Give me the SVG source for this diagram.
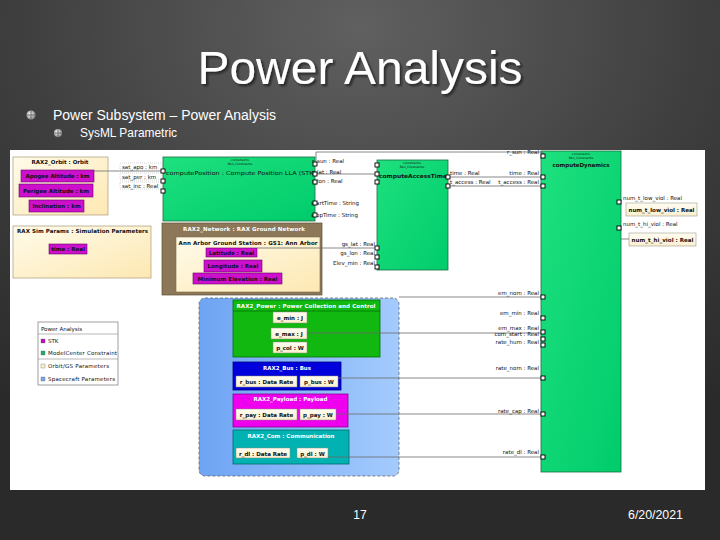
<svg xmlns="http://www.w3.org/2000/svg" width="720" height="540" viewBox="0 0 720 540">
<defs>
<radialGradient id="bg" cx="50%" cy="5%" r="85%">
<stop offset="0" stop-color="#606060"/><stop offset="0.6" stop-color="#3c3c3c"/><stop offset="1" stop-color="#2a2a2a"/>
</radialGradient>
<linearGradient id="beige" x1="0" y1="0" x2="1" y2="1">
<stop offset="0" stop-color="#fffbea"/><stop offset="1" stop-color="#fde8b2"/>
</linearGradient>
<linearGradient id="cream" x1="0" y1="0" x2="0" y2="1">
<stop offset="0" stop-color="#fffdf2"/><stop offset="1" stop-color="#fbefd0"/>
</linearGradient>
<linearGradient id="green" x1="0" y1="0" x2="1" y2="1">
<stop offset="0" stop-color="#1ee07e"/><stop offset="1" stop-color="#00cc6c"/>
</linearGradient>
<linearGradient id="blue" x1="0" y1="0" x2="1" y2="0">
<stop offset="0" stop-color="#6ea4f4"/><stop offset="1" stop-color="#a4cbfd"/>
</linearGradient>
<radialGradient id="bul" cx="40%" cy="40%" r="60%">
<stop offset="0" stop-color="#ffffff"/><stop offset="1" stop-color="#8a8a8a"/>
</radialGradient>
<filter id="sh" x="-5%" y="-20%" width="110%" height="140%">
<feDropShadow dx="2" dy="2" stdDeviation="0.8" flood-color="#111" flood-opacity="0.7"/>
</filter>
</defs>
<style>
.sl{font-family:"Liberation Sans",Arial,sans-serif;fill:#fff}
.t{font-family:"DejaVu Sans",Verdana,sans-serif;font-size:5.5px;fill:#111}
.b{font-weight:bold}
.w{fill:#fff}
.m{text-anchor:middle}
.e{text-anchor:end}
.pu{fill:#cc10cc;stroke:#6a006a;stroke-width:.6}
.bg2{fill:url(#cream);stroke:#8a8a7a;stroke-width:.5}
.port{fill:#fff;stroke:#000;stroke-width:.9}
.conn{stroke:#6a6a6a;stroke-width:.8;fill:none}
.lb{fill:#fff;stroke:#aaa;stroke-width:.5;stroke-dasharray:1 1}
.gr{fill:url(#green);stroke:#1d6e44;stroke-width:.8}
.st{font-size:3px}
</style>
<rect x="0" y="0" width="720" height="540" fill="url(#bg)"/>
<g id="slide-text">
<text x="360" y="84" class="sl" font-size="47" text-anchor="middle" textLength="325" lengthAdjust="spacingAndGlyphs" filter="url(#sh)">Power Analysis</text>
<circle cx="31" cy="115" r="4.5" fill="url(#bul)"/>
<path d="M27,115 H35 M31,111 V119" stroke="#555" stroke-width=".8"/>
<text x="53" y="120" class="sl" font-size="14" textLength="223" lengthAdjust="spacingAndGlyphs">Power Subsystem – Power Analysis</text>
<circle cx="58" cy="133" r="4" fill="url(#bul)"/>
<path d="M54.5,133 H61.5 M58,129.5 V136.5" stroke="#555" stroke-width=".8"/>
<text x="80" y="137" class="sl" font-size="12" textLength="97" lengthAdjust="spacingAndGlyphs">SysML Parametric</text>
<text x="360" y="519" class="sl" font-size="12" text-anchor="middle">17</text>
<text x="683" y="519" class="sl" font-size="12" text-anchor="end" textLength="55" lengthAdjust="spacingAndGlyphs">6/20/2021</text>
</g>
<rect x="10" y="150" width="695" height="340" fill="#fff"/>

<g id="orbit">
<rect x="13" y="157" width="95" height="58" fill="url(#beige)" stroke="#a8987a" stroke-width=".7"/>
<text x="60" y="164" class="t b m">RAX2_Orbit : Orbit</text>
<rect x="21" y="170" width="73" height="12" class="pu"/>
<text x="57.5" y="178" class="t b m" textLength="64">Apogee Altitude : km</text>
<rect x="19" y="184" width="74" height="13" class="pu"/>
<text x="56" y="192.5" class="t b m" textLength="66">Perigee Altitude : km</text>
<rect x="29" y="200" width="55" height="12" class="pu"/>
<text x="56.5" y="208" class="t b m">Inclination : km</text>
</g>

<g id="sim-params">
<rect x="13" y="226" width="138" height="52" fill="url(#beige)" stroke="#a8987a" stroke-width=".7"/>
<text x="17" y="233" class="t b" textLength="131">RAX Sim Params : Simulation Parameters</text>
<rect x="49" y="244" width="38" height="10" class="pu"/>
<text x="68" y="251" class="t b m">time : Real</text>
</g>

<g id="computePosition">
<rect x="163" y="157" width="152" height="64" class="gr"/>
<text x="240" y="160.5" class="t m st">«constraint»</text>
<text x="240" y="165" class="t m st">RAX_Constraints</text>
<text x="166" y="175" class="t" font-size="6.2" textLength="150" lengthAdjust="spacingAndGlyphs">computePosition : Compute Position LLA (STK)</text>
</g>

<g id="computeAccessTime">
<rect x="377" y="160" width="71" height="110" class="gr"/>
<text x="412" y="163.5" class="t m st">«constraint»</text>
<text x="412" y="168" class="t m st">RAX_Constraints</text>
<text x="379" y="178" class="t b" font-size="6" textLength="68" lengthAdjust="spacingAndGlyphs">computeAccessTime</text>
</g>

<g id="computeDynamics">
<rect x="541" y="151" width="80" height="321" class="gr"/>
<text x="581" y="154.5" class="t m st">«constraint»</text>
<text x="581" y="159" class="t m st">RAX_Constraints</text>
<text x="581" y="167" class="t b m" font-size="6.2">computeDynamics</text>
</g>

<g id="ground-network">
<rect x="162" y="223" width="160" height="72" fill="#8c7858" stroke="#5e5038" stroke-width=".7"/>
<text x="244" y="231" class="t b w m" textLength="122">RAX2_Network : RAX Ground Network</text>
<rect x="176" y="237" width="144" height="55" fill="url(#beige)" stroke="#7a6a4a" stroke-width=".6"/>
<text x="248" y="244.5" class="t b m" textLength="139">Ann Arbor Ground Station : GS1: Ann Arbor</text>
<rect x="206" y="248" width="51" height="9" class="pu"/>
<text x="231.5" y="255" class="t b m">Latitude : Real</text>
<rect x="204" y="260" width="58" height="12" class="pu"/>
<text x="233" y="268" class="t b m">Longitude : Real</text>
<rect x="193" y="273" width="89" height="11" class="pu"/>
<text x="237.5" y="281" class="t b m" textLength="80">Minimum Elevation : Real</text>
</g>

<g id="spacecraft">
<rect x="199" y="298" width="200" height="178" rx="6" fill="url(#blue)" stroke="#666" stroke-width=".8" stroke-dasharray="3 2"/>
</g>

<g id="power">
<rect x="233" y="300" width="147" height="57" fill="#10b810" stroke="#007000" stroke-width=".8"/>
<line x1="233" y1="311" x2="380" y2="311" stroke="#006a00" stroke-width=".7"/>
<text x="306" y="307.5" class="t b w m" font-size="5.2" textLength="139">RAX2_Power : Power Collection and Control</text>
<rect x="273" y="312" width="34" height="11" class="bg2"/>
<text x="290" y="320" class="t b m">e_min : J</text>
<rect x="271" y="328" width="36" height="11" class="bg2"/>
<text x="289" y="336" class="t b m">e_max : J</text>
<rect x="273" y="342" width="34" height="11" class="bg2"/>
<text x="290" y="350" class="t b m">p_col : W</text>
</g>

<g id="bus">
<rect x="233" y="362" width="108" height="28" fill="#0000dc" stroke="#00007a" stroke-width=".8"/>
<text x="287" y="369.5" class="t b w m">RAX2_Bus : Bus</text>
<rect x="236" y="376" width="61" height="11" class="bg2"/>
<text x="266.5" y="384" class="t b m">r_bus : Data Rate</text>
<rect x="300" y="376" width="38" height="11" class="bg2"/>
<text x="319" y="384" class="t b m">p_bus : W</text>
</g>

<g id="payload">
<rect x="233" y="394" width="115" height="33" fill="#ee00ee" stroke="#8a008a" stroke-width=".8"/>
<text x="290.5" y="401" class="t b w m">RAX2_Payload : Payload</text>
<rect x="236" y="409" width="61" height="11" class="bg2"/>
<text x="266.5" y="417" class="t b m">r_pay : Data Rate</text>
<rect x="300" y="409" width="36" height="11" class="bg2"/>
<text x="318" y="417" class="t b m">p_pay : W</text>
</g>

<g id="com">
<rect x="233" y="430" width="116" height="34" fill="#00b2b2" stroke="#006c6c" stroke-width=".8"/>
<text x="291" y="437.5" class="t b w m">RAX2_Com : Communication</text>
<rect x="236" y="448" width="54" height="10" class="bg2"/>
<text x="263" y="455.5" class="t b m">r_dl : Data Rate</text>
<rect x="297" y="448" width="31" height="10" class="bg2"/>
<text x="312.5" y="455.5" class="t b m">p_dl : W</text>
</g>

<g id="outputs">
<rect x="626" y="203" width="71" height="13" class="bg2"/>
<text x="661.5" y="211.5" class="t b m" textLength="66">num_t_low_viol : Real</text>
<rect x="629" y="233" width="67" height="13" class="bg2"/>
<text x="662.5" y="241.5" class="t b m" textLength="62">num_t_hi_viol : Real</text>
</g>

<g id="legend">
<rect x="38" y="322" width="80" height="63" fill="#fff" stroke="#888" stroke-width=".8"/>
<text x="41" y="330.5" class="t" font-size="5">Power Analysis</text>
<line x1="38" y1="334" x2="118" y2="334" stroke="#888" stroke-width=".6"/>
<rect x="41" y="339" width="4" height="4" fill="#c010c0" stroke="#555" stroke-width=".3"/>
<text x="48" y="343" class="t" font-size="5">STK</text>
<rect x="41" y="351" width="4" height="4" fill="#20b060" stroke="#555" stroke-width=".3"/>
<text x="48" y="355" class="t" font-size="5" textLength="69">ModelCenter Constraint</text>
<line x1="38" y1="359" x2="118" y2="359" stroke="#888" stroke-width=".6"/>
<rect x="41" y="364" width="4" height="4" fill="#fdf0c8" stroke="#555" stroke-width=".3"/>
<text x="48" y="368" class="t" font-size="5" textLength="61">Orbit/GS Parameters</text>
<rect x="41" y="377" width="4" height="4" fill="#7aa6ee" stroke="#555" stroke-width=".3"/>
<text x="48" y="381" class="t" font-size="5" textLength="67">Spacecraft Parameters</text>
</g>

<g id="connectors">
<path class="conn" d="M94,171 H163"/>
<path class="conn" d="M316,164 V152 H543 V156"/>
<path class="conn" d="M315,174 H377"/>
<path class="conn" d="M448,177 H541"/>
<path class="conn" d="M448,186 H541"/>
<path class="conn" d="M257,248 H377"/>
<path class="conn" d="M399,297 H541"/>
<path class="conn" d="M307,333 H541"/>
<path class="conn" d="M338,378 H541"/>
<path class="conn" d="M336,414 H541"/>
<path class="conn" d="M328,457 H541"/>
<path class="conn" d="M621,239 H629"/>
</g>

<g id="port-labels">
<rect x="120" y="163" width="42" height="7" class="lb"/>
<text x="122" y="169" class="t">sat_apo : km</text>
<rect x="120" y="173" width="42" height="7" class="lb"/>
<text x="122" y="179" class="t">sat_per : km</text>
<rect x="120" y="182" width="42" height="7" class="lb"/>
<text x="122" y="188" class="t">sat_inc : Real</text>
<text x="312" y="163" class="t">r_sun : Real</text>
<text x="312" y="174" class="t">r_lat : Real</text>
<text x="312" y="183" class="t">r_lon : Real</text>
<text x="311" y="205" class="t">startTime : String</text>
<text x="311" y="217" class="t">stopTime : String</text>
<text x="375" y="246" class="t e">gs_lat : Real</text>
<text x="375" y="255" class="t e">gs_lon : Real</text>
<text x="375" y="264.5" class="t e">Elev_min : Real</text>
<text x="450" y="175" class="t">time : Real</text>
<text x="450" y="184" class="t">t_access : Real</text>
<text x="539" y="154" class="t e">r_sun : Real</text>
<text x="539" y="175" class="t e">time : Real</text>
<text x="539" y="184" class="t e">t_access : Real</text>
<text x="539" y="295" class="t e">em_nom : Real</text>
<text x="539" y="315" class="t e">em_min : Real</text>
<text x="539" y="330" class="t e">em_max : Real</text>
<text x="539" y="336" class="t e">com_start : Real</text>
<text x="539" y="344" class="t e">rate_hum : Real</text>
<text x="539" y="370" class="t e">rate_nom : Real</text>
<text x="539" y="413" class="t e">rate_cap : Real</text>
<text x="539" y="454" class="t e">rate_dl : Real</text>
<text x="623" y="200" class="t">num_t_low_viol : Real</text>
<text x="623" y="226" class="t">num_t_hi_viol : Real</text>
</g>

<g id="ports">
<rect x="161" y="169" width="4" height="4" class="port"/>
<rect x="161" y="179" width="4" height="4" class="port"/>
<rect x="161" y="189" width="4" height="4" class="port"/>
<rect x="313" y="162" width="4" height="4" class="port"/>
<rect x="313" y="172" width="4" height="4" class="port"/>
<rect x="313" y="180" width="4" height="4" class="port"/>
<rect x="313" y="201" width="4" height="4" class="port"/>
<rect x="313" y="213" width="4" height="4" class="port"/>
<rect x="375" y="163" width="4" height="4" class="port"/>
<rect x="375" y="172" width="4" height="4" class="port"/>
<rect x="375" y="180" width="4" height="4" class="port"/>
<rect x="375" y="246" width="4" height="4" class="port"/>
<rect x="375" y="255" width="4" height="4" class="port"/>
<rect x="375" y="265" width="4" height="4" class="port"/>
<rect x="446" y="175" width="4" height="4" class="port"/>
<rect x="446" y="184" width="4" height="4" class="port"/>
<rect x="541" y="154" width="4" height="4" class="port"/>
<rect x="541" y="175" width="4" height="4" class="port"/>
<rect x="541" y="184" width="4" height="4" class="port"/>
<rect x="541" y="295" width="4" height="4" class="port"/>
<rect x="541" y="316" width="4" height="4" class="port"/>
<rect x="541" y="330" width="4" height="4" class="port"/>
<rect x="541" y="337" width="4" height="4" class="port"/>
<rect x="541" y="343" width="4" height="4" class="port"/>
<rect x="541" y="376" width="4" height="4" class="port"/>
<rect x="541" y="412" width="4" height="4" class="port"/>
<rect x="541" y="455" width="4" height="4" class="port"/>
<rect x="617" y="200" width="4" height="4" class="port"/>
<rect x="617" y="226" width="4" height="4" class="port"/>
</g>
</svg>
